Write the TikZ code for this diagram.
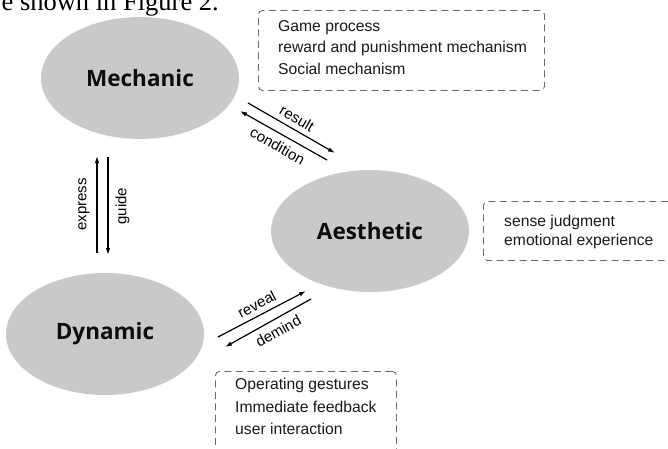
\documentclass[tikz,border=0pt]{standalone}
\usepackage{fontspec}
\setmainfont{Liberation Sans}
\newfontfamily\captionserif{Liberation Serif}
\newfontfamily\ellfont{Open Sans}
\usetikzlibrary{shapes.geometric,arrows.meta}
\definecolor{ellgray}{RGB}{201,201,201}
\definecolor{dashgray}{RGB}{105,105,105}
\begin{document}
\begin{tikzpicture}[x=1pt,y=1pt,
  ell/.style={ellipse, fill=ellgray, draw=none, minimum width=198pt, minimum height=122pt, inner sep=0pt, font=\ellfont\bfseries\fontsize{22.5}{25}\selectfont, text=black!95},
  dbox/.style={draw=dashgray, dash pattern=on 7pt off 4.5pt, line width=0.9pt, rounded corners=4pt, inner sep=0pt, anchor=north west},
  item/.style={anchor=base west, inner sep=0pt, font=\fontsize{15.7}{18}\selectfont, text=black!90},
  conn/.style={line width=1.2pt, -{Latex[length=7pt,width=4.5pt]}},
  connr/.style={line width=1.2pt, {Latex[length=7pt,width=4.5pt]}-},
  lab/.style={font=\fontsize{15}{17}\selectfont, inner sep=4pt, midway, sloped}
]
\useasboundingbox (0,0) rectangle (668,-448);

% cut caption at top
\node[anchor=base east, inner sep=0pt, font=\captionserif\fontsize{26.5}{30}\selectfont] (cap) at (219,-10) {e shown in Figure 2.};

% ellipses
\node[ell] (mech) at (140,-78) {Mechanic};
\node[ell] (aest) at (370,-231) {Aesthetic};
\node[ell] (dyn) at (105,-334) {Dynamic};

% dashed boxes
\node[dbox, minimum width=286pt, minimum height=80pt] (mbox) at (258,-10) {};
\node[dbox, minimum width=200pt, minimum height=59pt] (abox) at (483,-201) {};
\node[dbox, minimum width=181pt, minimum height=90pt] (dbx) at (215,-371) {};

\node[item] (m1) at (278,-31.4) {Game process};
\node[item] (m2) at (278,-52.4) {reward and punishment mechanism};
\node[item] (m3) at (278,-74) {Social mechanism};

\node[item] (a1) at (504,-226.8) {sense judgment};
\node[item] (a2) at (504,-245.8) {emotional experience};

\node[item] (d1) at (235,-389) {Operating gestures};
\node[item] (d2) at (235,-412.4) {Immediate feedback};
\node[item] (d3) at (235,-434) {user interaction};

% connector end points
\coordinate (rs) at (248,-103); \coordinate (re) at (335,-153);
\coordinate (ct) at (240,-111); \coordinate (cb) at (327,-160);
\coordinate (eb) at (97,-253);  \coordinate (et) at (97,-156);
\coordinate (gt) at (108,-157); \coordinate (gb) at (108,-255);
\coordinate (vs) at (218,-337); \coordinate (ve) at (306,-291);
\coordinate (dt) at (225,-347); \coordinate (ds) at (311,-299);

\draw[conn] (rs) -- (re) node[lab, above, inner sep=5pt] (lres) {result};
\draw[connr] (ct) -- (cb) node[lab, below, inner sep=6pt] (lcon) {condition};
\draw[conn] (eb) -- (et) node[lab, above, inner sep=7pt] (lexp) {express};
\draw[connr] (gb) -- (gt) node[lab, below, inner sep=7pt] (lgui) {guide};
\draw[conn] (vs) -- (ve) node[lab, above, inner sep=5pt] (lrev) {reveal};
\draw[connr] (dt) -- (ds) node[lab, below, pos=0.55, inner sep=6pt] (ldem) {demind};
\end{tikzpicture}
\end{document}
